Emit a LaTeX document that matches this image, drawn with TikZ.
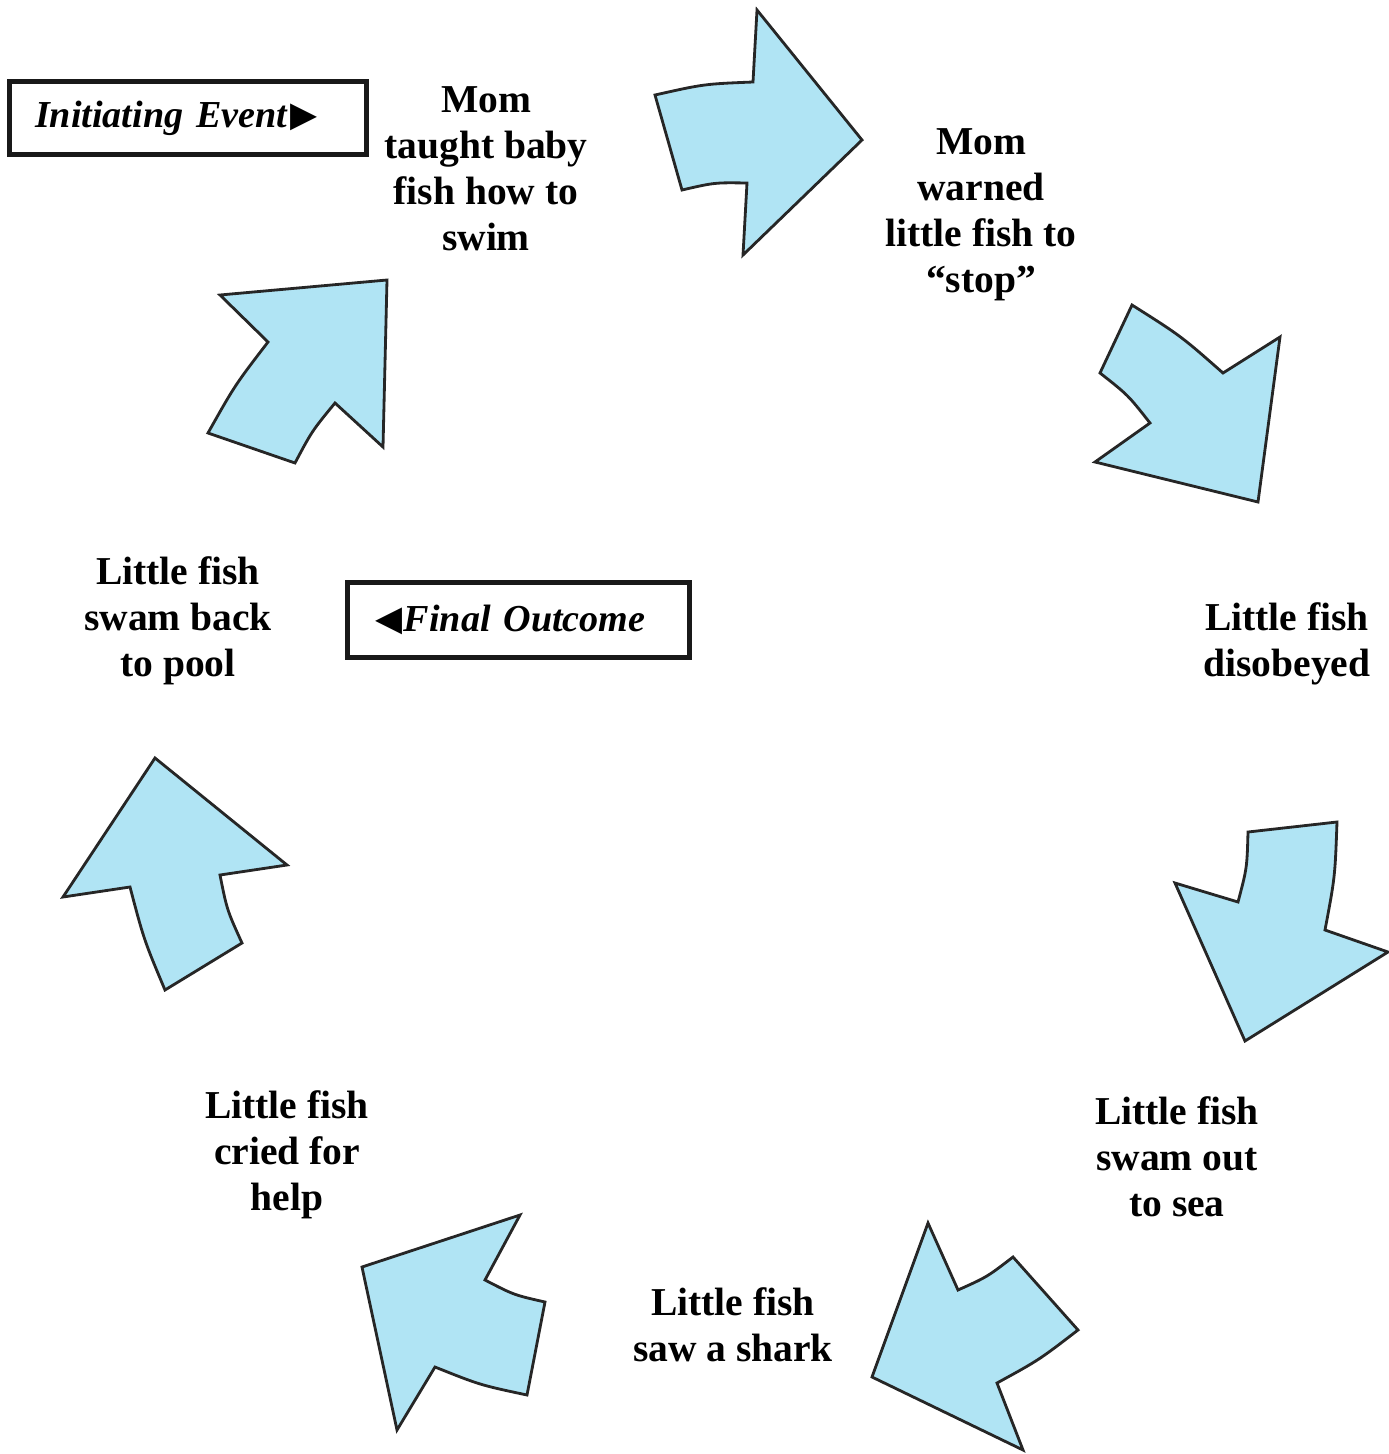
\documentclass[tikz,border=0pt]{standalone}
\usepackage{fontspec}
\setmainfont{Liberation Serif}
\newfontfamily\symfont{DejaVu Sans}
\usepackage{tikz}
\usepackage{xcolor}
\usetikzlibrary{calc}
\definecolor{arrowblue}{RGB}{176,228,244}
\tikzset{
	story arrow/.style={fill=arrowblue, draw=black!85, line width=1.6pt, line join=miter},
	story text/.style={align=center, font=\bfseries\fontsize{22.5}{26.2}\selectfont, inner sep=0pt},
	mark box/.style={draw=black!90, line width=2.9pt, align=left, font=\bfseries\itshape\fontsize{21.7}{24}\selectfont}
}
\newcommand{\rtri}{\kern.08em{\symfont\fontsize{20}{20}\selectfont\raisebox{.02em}{▶}}}
\newcommand{\ltri}{{\symfont\fontsize{20}{20}\selectfont\raisebox{.02em}{◀}}\kern.05em}

\begin{document}
\begin{tikzpicture}[x=0.02cm, y=-0.02cm]
	\useasboundingbox (0,0) rectangle (1389,1454);
%
	\filldraw[story arrow] (655,95) .. controls (704,84) .. (753,82) -- (757,10) -- (862,140) -- (743,255) -- (747,183) .. controls (714.5,182.5) .. (682,190) -- cycle;
	\filldraw[story arrow] (1132,305) -- (1100,373) .. controls (1128,395) .. (1150,423) -- (1095,462) -- (1258,502) -- (1280,337) -- (1223,373) .. controls (1181,336) .. (1132,305) -- cycle;
	\filldraw[story arrow] (1248,832) -- (1337,822) .. controls (1335,877) .. (1325,930) -- (1388,952) -- (1245,1041) -- (1175,883) -- (1238,902) .. controls (1247,868) .. (1248,832) -- cycle;
	\filldraw[story arrow] (928,1223) -- (958,1290) .. controls (987,1277) .. (1013,1257) -- (1078,1330) .. controls (1039,1360) .. (997,1383) -- (1023,1450) -- (872,1377) -- cycle;
	\filldraw[story arrow] (362,1267) -- (520,1215) -- (485,1280) .. controls (514,1295) .. (545,1302) -- (527,1395) .. controls (480,1385) .. (435,1367) -- (397,1430) -- cycle;
	\filldraw[story arrow] (155,758) -- (287,865) -- (220,875) .. controls (227,910) .. (242,943) -- (165,990) .. controls (144,940) .. (130,887) -- (63,897) -- cycle;
	\filldraw[story arrow] (220,295) -- (387,280) -- (383,447) -- (335,403) .. controls (312,431) .. (295,463) -- (208,433) .. controls (235,385) .. (268,342) -- cycle;
%
	\node[mark box, text width=6.12cm, inner xsep=0.51cm, minimum height=1.46cm] (initiating) at (188,118) {Initiating Event\rtri};
	\node[mark box, text width=5.74cm, inner xsep=0.55cm, minimum height=1.5cm] (outcome) at (518.5,620) {\ltri Final Outcome};
%
	\node[story text] (taught) at (486,169) {Mom\\taught baby\\fish how to\\swim};
	\node[story text] (warned) at (981,215) {Mom\\warned\\little fish to\\“stop”};
	\node[story text] (disobeyed) at (1287,644) {Little fish\\disobeyed};
	\node[story text] (swamout) at (1177,1157) {Little fish\\swam out\\to sea};
	\node[story text] (shark) at (733,1325) {Little fish\\saw a shark};
	\node[story text] (cried) at (287,1155) {Little fish\\cried for\\help};
	\node[story text] (swamback) at (178,621) {Little fish\\swam back\\to pool};
\end{tikzpicture}
\end{document}
